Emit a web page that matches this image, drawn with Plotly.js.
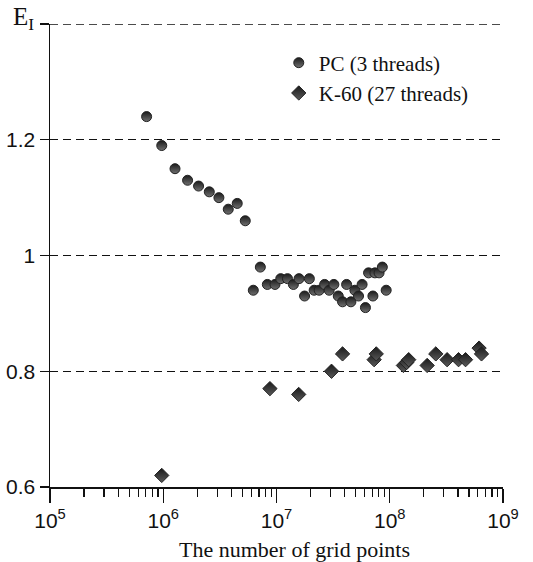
<!DOCTYPE html>
<html><head><meta charset="utf-8">
<script src="https://cdn.plot.ly/plotly-3.0.1.min.js"></script>
<style>html,body{margin:0;padding:0;background:#fff}#chart{width:533px;height:562px}</style>
</head><body><div id="chart"></div>
<script>
// PC (3 threads)
const pcX = [7.13e5, 9.7e5, 1.27e6, 1.64e6, 2.05e6, 2.55e6, 3.1e6, 3.75e6, 4.5e6, 5.3e6,
  6.24e6, 7.2e6, 8.3e6, 9.7e6, 1.09e7, 1.25e7, 1.41e7, 1.58e7, 1.77e7, 1.95e7,
  2.15e7, 2.38e7, 2.66e7, 2.92e7, 3.21e7, 3.51e7, 3.83e7, 4.16e7, 4.54e7, 4.92e7,
  5.3e7, 5.7e7, 6.1e7, 6.5e7, 7.1e7, 7.4e7, 8.05e7, 8.6e7, 9.3e7];
const pcY = [1.24, 1.19, 1.15, 1.13, 1.12, 1.11, 1.10, 1.08, 1.09, 1.06,
  0.94, 0.98, 0.95, 0.95, 0.96, 0.96, 0.95, 0.96, 0.93, 0.96,
  0.94, 0.94, 0.95, 0.94, 0.95, 0.93, 0.92, 0.95, 0.92, 0.94,
  0.93, 0.95, 0.91, 0.97, 0.93, 0.97, 0.97, 0.98, 0.94];
// K-60 (27 threads)
const kX = [9.7e5, 8.75e6, 1.57e7, 3.06e7, 3.83e7, 7.28e7, 7.6e7, 1.32e8, 1.41e8, 1.47e8,
  2.14e8, 2.55e8, 3.21e8, 4.05e8, 4.67e8, 6.15e8, 6.46e8];
const kY = [0.62, 0.77, 0.76, 0.80, 0.83, 0.82, 0.83, 0.81, 0.815, 0.82,
  0.81, 0.83, 0.82, 0.82, 0.82, 0.84, 0.83];
const xTickVals = [1e5, 1e6, 1e7, 1e8, 1e9];
const xTickText = ['10<sup>5</sup>', '10<sup>6</sup>', '10<sup>7</sup>', '10<sup>8</sup>', '10<sup>9</sup>'];
const yTickVals = [0.6, 0.8, 1, 1.2, 1.4];
const yTickText = ['0.6', '0.8', '1', '1.2', ''];
const seriesNames = ['PC (3 threads)', 'K-60 (27 threads)'];
const xTitle = 'The number of grid points';
const yTitle = 'E<sub>I</sub>';

const minorVals = [];
for (let e = 5; e < 9; e++) for (let m = 2; m <= 9; m++) minorVals.push(m * Math.pow(10, e));

const traces = [
  {x: pcX, y: pcY, mode: 'markers', type: 'scatter', name: seriesNames[0],
   marker: {symbol: 'circle', size: 10, color: '#1a1a1a',
            gradient: {type: 'vertical', color: '#707070'},
            line: {color: '#222', width: 1}}},
  {x: kX, y: kY, mode: 'markers', type: 'scatter', name: seriesNames[1],
   marker: {symbol: 'diamond', size: 11, color: '#1a1a1a',
            gradient: {type: 'vertical', color: '#5a5a5a'},
            line: {color: '#222', width: 1}}}
];

const serif = 'Liberation Serif, Times New Roman, serif';
const sans = 'Liberation Sans, Arial, sans-serif';
const layout = {
  width: 533, height: 562,
  margin: {l: 50, r: 30, t: 24, b: 75},
  paper_bgcolor: '#fff', plot_bgcolor: '#fff',
  showlegend: true,
  legend: {x: 0.505, y: 0.96, xanchor: 'left', yanchor: 'top',
           font: {family: serif, size: 21, color: '#111'},
           bgcolor: 'rgba(0,0,0,0)', itemwidth: 30, tracegroupgap: 0},
  xaxis: {type: 'log', range: [5, 9], tickvals: xTickVals, ticktext: xTickText,
          ticks: 'outside', ticklen: 14, tickwidth: 1.3, tickcolor: '#111',
          showline: true, linecolor: '#111', linewidth: 1.5, showgrid: false, zeroline: false,
          tickfont: {family: sans, size: 21, color: '#111'},
          minor: {tickvals: minorVals, ticks: 'outside', ticklen: 8, tickwidth: 1.2, tickcolor: '#111', showgrid: false}},
  yaxis: {range: [0.6, 1.4], tickvals: yTickVals, ticktext: yTickText,
          ticks: 'outside', ticklen: 9, tickwidth: 1.3, tickcolor: '#111',
          showline: true, linecolor: '#111', linewidth: 1.5,
          showgrid: true, gridcolor: '#111', gridwidth: 1.4, griddash: '8px,5px', zeroline: false,
          tickfont: {family: sans, size: 21, color: '#111'}},
  shapes: [{type: 'line', xref: 'paper', yref: 'y', x0: 0, x1: 1, y0: 1.4, y1: 1.4,
            line: {color: '#111', width: 1.4, dash: '8px,5px'}}],
  annotations: [
    {xref: 'paper', yref: 'paper', x: 0, y: 1, xanchor: 'right', yanchor: 'middle',
     xshift: -14, yshift: 6, showarrow: false, text: yTitle,
     font: {family: serif, size: 25, color: '#111'}},
    {xref: 'paper', yref: 'paper', x: 0.539, y: 0, xanchor: 'center', yanchor: 'top',
     yshift: -48, showarrow: false, text: xTitle,
     font: {family: serif, size: 22, color: '#111'}}
  ]
};
Plotly.newPlot('chart', traces, layout, {displayModeBar: false, staticPlot: true});
</script></body></html>
